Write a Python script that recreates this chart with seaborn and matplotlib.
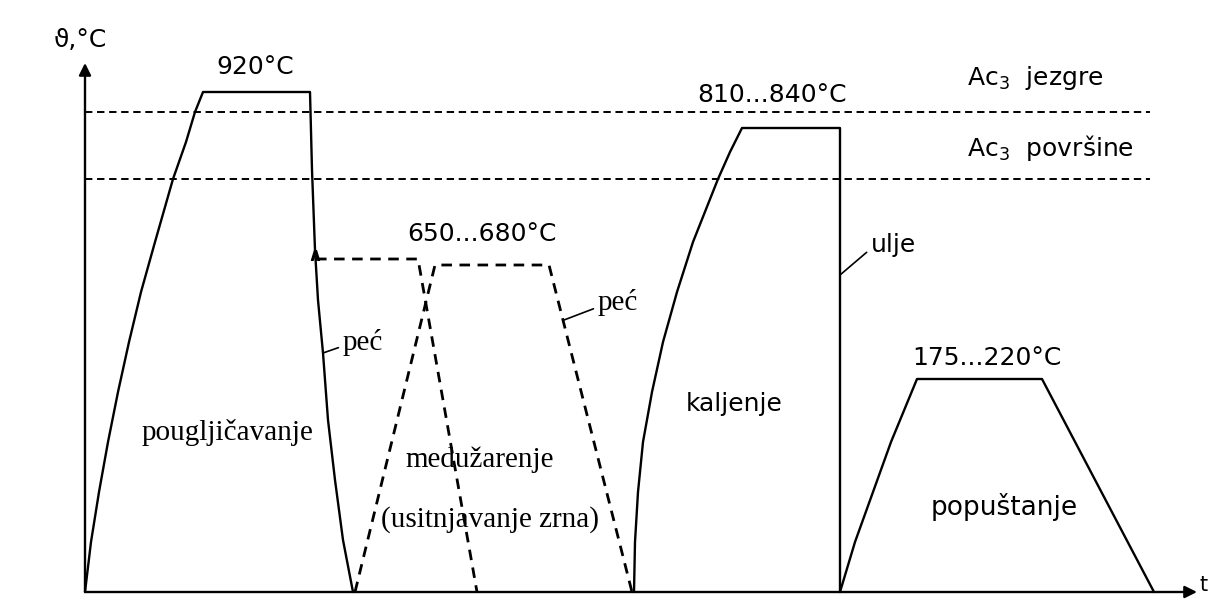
import matplotlib
matplotlib.use("Agg")
import matplotlib.pyplot as plt
import seaborn as sns
import pandas as pd

# [ data ] -- schematic units: t = time, h = relative temperature height
carb_t = [0, 6, 14, 23, 33, 44, 56, 70, 88, 101, 110, 118,
          225, 227, 230, 233, 238, 243, 250, 258, 268]
carb_h = [0, 50, 100, 150, 200, 250, 300, 350, 413, 450, 480, 500,
          500, 422, 342, 292, 239, 172, 112, 52, 0]

norm1_t = [231, 333, 392]           # furnace cooling branch (dashed)
norm1_h = [333, 333, 0]
norm2_t = [270, 350, 464, 547]      # intermediate annealing (dashed)
norm2_h = [0, 327, 327, 0]

hard_t = [549, 550, 553, 558, 567, 578, 592, 608, 633, 645, 657, 755, 755]
hard_h = [0, 50, 100, 150, 200, 250, 300, 350, 413, 440, 464, 464, 0]

temp_t = [755, 770, 788, 806, 832, 957, 1069]
temp_h = [0, 50, 100, 150, 213, 213, 0]

ac3_levels = [480, 413]
ac3_labels = ["Ac$_3$  jezgre", "Ac$_3$  površine"]
ac3_span = [0, 1065]

peak_labels = ["920°C", "650...680°C", "810...840°C", "175...220°C"]
stage_names = ["pougljičavanje", "medužarenje", "(usitnjavanje zrna)", "kaljenje", "popuštanje"]

# [ figure ] ----------------------------------------------------------------
sns.set_style("white")
plt.rcParams['font.family'] = ['DejaVu Sans']
plt.rcParams['text.color'] = 'black'

fig = plt.figure(figsize=(12.09, 6.11), dpi=100)
ax = fig.add_axes([0, 0, 1, 1])
ax.set_xlim(-85, 1124)
ax.set_ylim(-19, 592)
ax.axis("off")

solid = dict(color="black", lw=1.7, sort=False, estimator=None, legend=False)
dashed = dict(color="black", lw=2.0, sort=False, estimator=None, legend=False,
              linestyle=(0, (3.8, 2.7)))

sns.lineplot(x=carb_t, y=carb_h, ax=ax, **solid)
sns.lineplot(x=hard_t, y=hard_h, ax=ax, **solid)
sns.lineplot(x=temp_t, y=temp_h, ax=ax, **solid)
sns.lineplot(x=norm1_t, y=norm1_h, ax=ax, **dashed)
sns.lineplot(x=norm2_t, y=norm2_h, ax=ax, **dashed)

# Ac3 lines
for lvl in ac3_levels:
    ac3 = pd.DataFrame({"t": ac3_span, "h": [lvl, lvl]})
    sns.lineplot(data=ac3, x="t", y="h", ax=ax, color="black", lw=1.4,
                 sort=False, estimator=None, linestyle=(0, (3.8, 2.4)))

# little hook where the dashed branch leaves the cooling curve
ax.plot(norm1_t[0] - 1, norm1_h[0] + 4, marker=r"$\wedge$", color="black", ms=7)

# axes arrows
arr = dict(arrowstyle="-|>", lw=1.7, color="black", mutation_scale=18,
           shrinkA=0, shrinkB=0)
ax.annotate("", xy=(0, 529), xytext=(0, 0), arrowprops=arr)
ax.annotate("", xy=(1112, 0), xytext=(0, 0), arrowprops=arr)
ax.text(1114, 7, "t", fontsize=15, ha="left", va="center")
ax.text(-5, 552, "ϑ,°C", fontsize=18, ha="center", va="center")

# temperature labels
sans = dict(fontsize=18, family="DejaVu Sans", ha="center", va="center")
ax.text(170, 525, peak_labels[0], **sans)
ax.text(397, 358, peak_labels[1], **sans)
ax.text(687, 497, peak_labels[2], **sans)
ax.text(902, 234, peak_labels[3], **sans)

ax.text(882, 514, ac3_labels[0], fontsize=18, ha="left", va="center")
ax.text(882, 444, ac3_labels[1], fontsize=18, ha="left", va="center")

# stage names
serif = dict(fontsize=21, family="Liberation Serif", ha="center", va="center")
ax.text(142, 160, stage_names[0], **serif)
ax.text(395, 132, stage_names[1], **serif)
ax.text(405, 72, stage_names[2], **serif)
ax.text(649, 188, stage_names[3], **sans)
ax.text(919, 85, stage_names[4], fontsize=19, ha="center", va="center")

# leaders
lead = dict(arrowstyle="-", lw=1.2, color="black", shrinkA=1, shrinkB=0,
            relpos=(0, 0.35))
ax.annotate("peć", xy=(238, 239), xytext=(258, 250), fontsize=21,
            family="Liberation Serif", ha="left", va="center", arrowprops=lead)
ax.annotate("peć", xy=(479, 272), xytext=(513, 289), fontsize=21,
            family="Liberation Serif", ha="left", va="center", arrowprops=lead)
ax.annotate("ulje", xy=(755, 317), xytext=(786, 347), fontsize=18,
            ha="left", va="center", arrowprops=lead)

fig.savefig("out.png", dpi=100, facecolor="white")
